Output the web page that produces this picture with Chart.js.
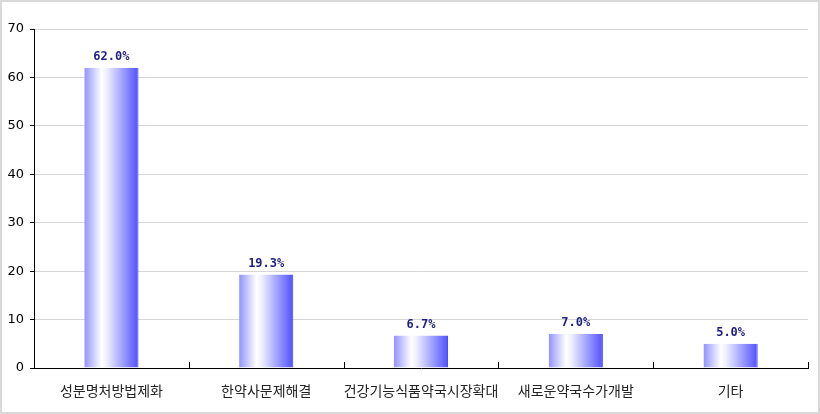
<!DOCTYPE html>
<html>
<head>
<meta charset="utf-8">
<script src="https://cdn.jsdelivr.net/npm/chart.js@4/dist/chart.umd.min.js"></script>
<style>
  html, body { margin: 0; padding: 0; background: #fff; }
  #wrap { width: 820px; height: 414px; box-sizing: border-box; border: 2px solid #d9d9d9; position: relative; background: #fff; }
  #wrap canvas { display: block; }
</style>
</head>
<body>
<div id="wrap"><canvas id="c"></canvas></div>
<script>
const categories = ['성분명처방법제화', '한약사문제해결', '건강기능식품약국시장확대', '새로운약국수가개발', '기타'];
const percentValues = [62.0, 19.3, 6.7, 7.0, 5.0];
const yTicks = [0, 10, 20, 30, 40, 50, 60, 70];
const BAR_PCT = 0.35;

function barGradient(context) {
  const chart = context.chart;
  const xs = chart.scales && chart.scales.x;
  if (!xs || !chart.chartArea || context.dataIndex === undefined) return '#9999ff';
  const cx = xs.getPixelForValue(context.dataIndex);
  const half = (xs.width / categories.length) * BAR_PCT / 2;
  const g = chart.ctx.createLinearGradient(cx - half, 0, cx + half, 0);
  g.addColorStop(0, '#9292ff');
  g.addColorStop(0.32, '#ffffff');
  g.addColorStop(0.42, '#eeeeff');
  g.addColorStop(1, '#5050ff');
  return g;
}

const valueLabelPlugin = {
  id: 'valueLabels',
  afterDatasetsDraw(chart) {
    const ctx = chart.ctx;
    ctx.save();
    ctx.font = 'bold 12px "DejaVu Sans Mono", monospace';
    ctx.fillStyle = '#1e1e82';
    ctx.textAlign = 'center';
    ctx.textBaseline = 'bottom';
    chart.getDatasetMeta(0).data.forEach((el, i) => {
      ctx.fillText(percentValues[i].toFixed(1) + '%', el.x, el.y - 5);
    });
    ctx.restore();
  }
};

const categoryTickPlugin = {
  id: 'categoryTicks',
  afterDraw(chart) {
    const xs = chart.scales.x;
    const ctx = chart.ctx;
    const bottom = chart.chartArea.bottom;
    ctx.save();
    ctx.strokeStyle = '#000';
    ctx.lineWidth = 1;
    for (let i = 1; i <= categories.length; i++) {
      const px = Math.round(xs.getPixelForValue(i - 0.5)) + 0.5;
      ctx.beginPath();
      ctx.moveTo(px, bottom);
      ctx.lineTo(px, bottom - 6);
      ctx.stroke();
    }
    ctx.restore();
  }
};

new Chart(document.getElementById('c'), {
  type: 'bar',
  data: {
    labels: categories,
    datasets: [{
      data: percentValues,
      backgroundColor: barGradient,
      borderColor: '#3c3cff',
      borderWidth: { top: 0, left: 0, bottom: 0, right: 1 },
      borderSkipped: false,
      barPercentage: BAR_PCT,
      categoryPercentage: 1.0
    }]
  },
  options: {
    responsive: true,
    maintainAspectRatio: false,
    animation: false,
    layout: { padding: { top: 27, right: 10, left: 0, bottom: 0 } },
    plugins: { legend: { display: false }, tooltip: { enabled: false } },
    scales: {
      x: {
        offset: true,
        grid: { display: false },
        border: { display: true, color: '#000', width: 1 },
        ticks: {
          color: '#222',
          font: { family: '"Noto Sans CJK KR", sans-serif', size: 14 },
          padding: 6,
          maxRotation: 0,
          minRotation: 0,
          autoSkip: false
        },
        afterFit(scale) { scale.height = 44; }
      },
      y: {
        min: 0,
        max: 70,
        afterBuildTicks(scale) { scale.ticks = yTicks.map(v => ({ value: v })); },
        grid: { color: '#d6d6d6', lineWidth: 1, tickColor: '#000', tickLength: 4 },
        border: { display: true, color: '#000', width: 1 },
        ticks: {
          color: '#000',
          font: { family: '"DejaVu Sans", sans-serif', size: 13 },
          padding: 6
        },
        afterFit(scale) { scale.width = 32; }
      }
    }
  },
  plugins: [valueLabelPlugin, categoryTickPlugin]
});
</script>
</body>
</html>
